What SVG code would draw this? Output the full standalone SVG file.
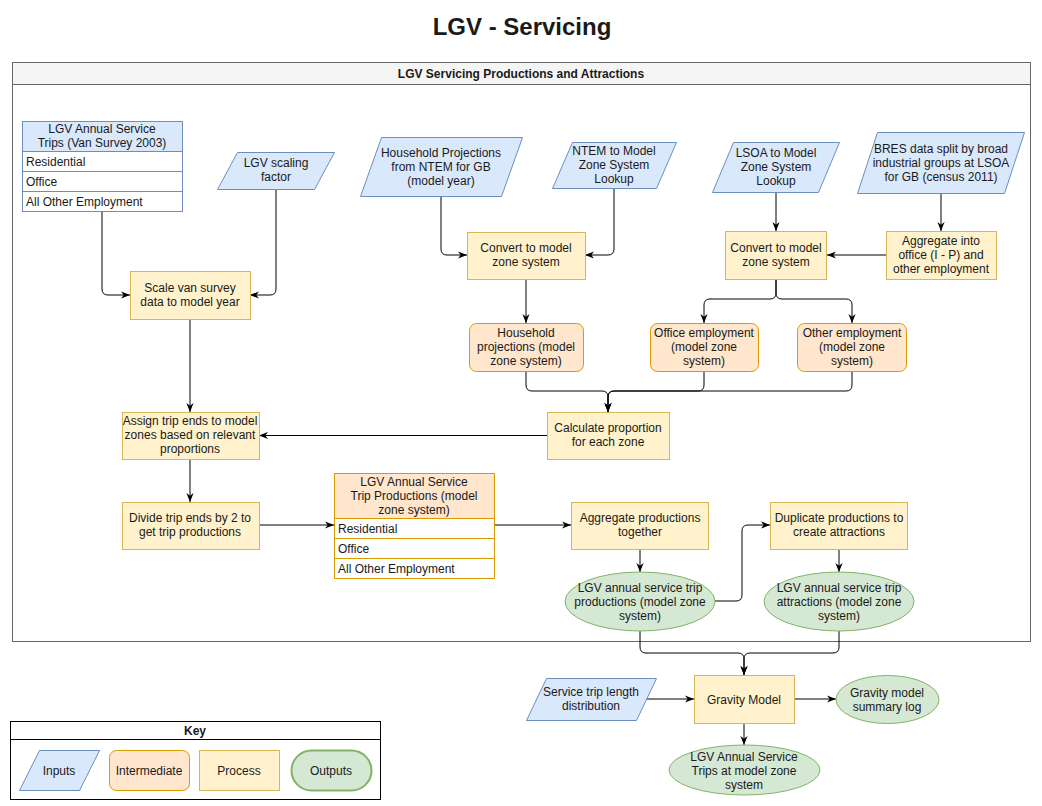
<svg xmlns="http://www.w3.org/2000/svg" width="1042" height="806" viewBox="0 0 1042 806">
<style>
text{font-family:"Liberation Sans",Arial,sans-serif;font-size:12px;fill:#1a1a1a}
.c{text-anchor:middle}
.b{font-weight:bold}
.in{fill:#dae8fc;stroke:#6c8ebf;stroke-width:1}
.im{fill:#ffe6cc;stroke:#d79b00;stroke-width:1}
.pr{fill:#fff2cc;stroke:#d6b656;stroke-width:1}
.out{fill:#d5e8d4;stroke:#82b366;stroke-width:1}
.row{fill:#ffffff}
.e{fill:none;stroke:#000;stroke-width:1;marker-end:url(#arr)}
</style>
<defs>
<marker id="arr" markerUnits="userSpaceOnUse" viewBox="0 0 10 8" markerWidth="9" markerHeight="8" refX="10" refY="4" orient="auto">
<path d="M0,0 L10,4 L0,8 L3,4 z" fill="#000"/>
</marker>
</defs>
<rect width="1042" height="806" fill="#ffffff"/>
<text x="522" y="34.5" class="c b" style="font-size:24px">LGV - Servicing</text>

<g id="container">
<rect x="12.5" y="62.5" width="1018" height="579" fill="#ffffff" stroke="#666666"/>
<rect x="12.5" y="62.5" width="1018" height="22" fill="#f5f5f5" stroke="#666666"/>
<text x="521" y="78" class="c b">LGV Servicing Productions and Attractions</text>
</g>

<g id="connectors">
<path class="e" d="M102,211 V289 Q102,295 108,295 H130"/>
<path class="e" d="M276,189 V289 Q276,295 270,295 H250"/>
<path class="e" d="M441,196 V249 Q441,255 447,255 H467"/>
<path class="e" d="M614,188 V249 Q614,255 608,255 H585"/>
<path class="e" d="M526,279 V323"/>
<path class="e" d="M776,192 V231"/>
<path class="e" d="M941,193 V231"/>
<path class="e" d="M886,255 H827"/>
<path class="e" d="M776,279 V293 Q776,299 770,299 H710 Q704,299 704,305 V323"/>
<path class="e" d="M776,279 V293 Q776,299 782,299 H846 Q852,299 852,305 V323"/>
<path class="e" d="M526,371 V385 Q526,391 532,391 H602 Q608,391 608,397 V412"/>
<path class="e" d="M704,371 V385 Q704,391 698,391 H614 Q608,391 608,397 V412"/>
<path class="e" d="M852,371 V385 Q852,391 846,391 H614 Q608,391 608,397 V412"/>
<path class="e" d="M547,435.5 H259"/>
<path class="e" d="M190,319 V412"/>
<path class="e" d="M190,459 V502"/>
<path class="e" d="M259,525 H334"/>
<path class="e" d="M494,525 H571"/>
<path class="e" d="M640,549 V572"/>
<path class="e" d="M839,549 V572"/>
<path class="e" d="M715,601 H736 Q742,601 742,595 V531 Q742,525 748,525 H770"/>
<path class="e" d="M640,631 V647 Q640,653 646,653 H738 Q744,653 744,659 V675"/>
<path class="e" d="M839,631 V647 Q839,653 833,653 H750 Q744,653 744,659 V675"/>
<path class="e" d="M647,699 H694"/>
<path class="e" d="M794,699 H836"/>
<path class="e" d="M744,723 V745"/>
</g>

<g id="van-survey-table">
<rect x="22.5" y="121.5" width="160" height="90" class="row" stroke="#6c8ebf"/>
<rect x="22.5" y="121.5" width="160" height="30" class="in"/>
<line x1="22.5" y1="171.5" x2="182.5" y2="171.5" stroke="#6c8ebf"/>
<line x1="22.5" y1="191.5" x2="182.5" y2="191.5" stroke="#6c8ebf"/>
<text x="102" y="133" class="c">LGV Annual Service</text>
<text x="102" y="147" class="c">Trips (Van Survey 2003)</text>
<text x="26" y="166">Residential</text>
<text x="26" y="186">Office</text>
<text x="26" y="206">All Other Employment</text>
</g>

<g id="lgv-scaling">
<polygon points="237.5,152.5 334.5,152.5 314.5,189.5 217.5,189.5" class="in"/>
<text x="276" y="167" class="c">LGV scaling</text>
<text x="276" y="181" class="c">factor</text>
</g>

<g id="scale-van">
<rect x="130.5" y="271.5" width="120" height="48" class="pr"/>
<text x="190" y="292" class="c">Scale van survey</text>
<text x="190" y="306" class="c">data to model year</text>
</g>

<g id="household-input">
<polygon points="381.5,137.5 522.5,137.5 501.5,196.5 360.5,196.5" class="in"/>
<text x="441" y="157" class="c">Household Projections</text>
<text x="441" y="171" class="c">from NTEM for GB</text>
<text x="441" y="185" class="c">(model year)</text>
</g>

<g id="ntem-lookup">
<polygon points="572.5,142.5 676.5,142.5 656.5,188.5 552.5,188.5" class="in"/>
<text x="614" y="155" class="c">NTEM to Model</text>
<text x="614" y="169" class="c">Zone System</text>
<text x="614" y="183" class="c">Lookup</text>
</g>

<g id="convert1">
<rect x="467.5" y="232.5" width="118" height="47" class="pr"/>
<text x="526" y="252" class="c">Convert to model</text>
<text x="526" y="266" class="c">zone system</text>
</g>

<g id="household-int">
<rect x="469.5" y="323.5" width="114" height="48" rx="7" class="im"/>
<text x="526" y="337" class="c">Household</text>
<text x="526" y="351" class="c">projections (model</text>
<text x="526" y="365" class="c">zone system)</text>
</g>

<g id="lsoa-lookup">
<polygon points="733.5,142.5 839.5,142.5 818.5,192.5 712.5,192.5" class="in"/>
<text x="776" y="157" class="c">LSOA to Model</text>
<text x="776" y="171" class="c">Zone System</text>
<text x="776" y="185" class="c">Lookup</text>
</g>

<g id="bres">
<polygon points="877.5,132.5 1024.5,132.5 1004.5,193.5 857.5,193.5" class="in"/>
<text x="941" y="153" class="c">BRES data split by broad</text>
<text x="941" y="167" class="c">industrial groups at LSOA</text>
<text x="941" y="181" class="c">for GB (census 2011)</text>
</g>

<g id="convert2">
<rect x="725.5" y="231.5" width="101" height="48" class="pr"/>
<text x="776" y="252" class="c">Convert to model</text>
<text x="776" y="266" class="c">zone system</text>
</g>

<g id="aggregate-office">
<rect x="886.5" y="231.5" width="110" height="48" class="pr"/>
<text x="941" y="245" class="c">Aggregate into</text>
<text x="941" y="259" class="c">office (I - P) and</text>
<text x="941" y="273" class="c">other employment</text>
</g>

<g id="office-emp">
<rect x="650.5" y="323.5" width="108" height="48" rx="7" class="im"/>
<text x="704" y="337" class="c">Office employment</text>
<text x="704" y="351" class="c">(model zone</text>
<text x="704" y="365" class="c">system)</text>
</g>

<g id="other-emp">
<rect x="797.5" y="323.5" width="109" height="48" rx="7" class="im"/>
<text x="852" y="337" class="c">Other employment</text>
<text x="852" y="351" class="c">(model zone</text>
<text x="852" y="365" class="c">system)</text>
</g>

<g id="calculate">
<rect x="547.5" y="412.5" width="122" height="47" class="pr"/>
<text x="608" y="432" class="c">Calculate proportion</text>
<text x="608" y="446" class="c">for each zone</text>
</g>

<g id="assign">
<rect x="122.5" y="412.5" width="137" height="47" class="pr"/>
<text x="190" y="425" class="c">Assign trip ends to model</text>
<text x="190" y="439" class="c">zones based on relevant</text>
<text x="190" y="453" class="c">proportions</text>
</g>

<g id="divide">
<rect x="122.5" y="502.5" width="137" height="47" class="pr"/>
<text x="190" y="522" class="c">Divide trip ends by 2 to</text>
<text x="190" y="536" class="c">get trip productions</text>
</g>

<g id="productions-table">
<rect x="334.5" y="473.5" width="160" height="105" class="row" stroke="#d79b00"/>
<rect x="334.5" y="473.5" width="160" height="45" class="im"/>
<line x1="334.5" y1="538.5" x2="494.5" y2="538.5" stroke="#d79b00"/>
<line x1="334.5" y1="558.5" x2="494.5" y2="558.5" stroke="#d79b00"/>
<text x="414" y="486" class="c">LGV Annual Service</text>
<text x="414" y="500" class="c">Trip Productions (model</text>
<text x="414" y="514" class="c">zone system)</text>
<text x="338" y="533">Residential</text>
<text x="338" y="553">Office</text>
<text x="338" y="573">All Other Employment</text>
</g>

<g id="aggregate-prod">
<rect x="571.5" y="502.5" width="137" height="47" class="pr"/>
<text x="640" y="522" class="c">Aggregate productions</text>
<text x="640" y="536" class="c">together</text>
</g>

<g id="duplicate">
<rect x="770.5" y="502.5" width="137" height="47" class="pr"/>
<text x="839" y="522" class="c">Duplicate productions to</text>
<text x="839" y="536" class="c">create attractions</text>
</g>

<g id="prod-output">
<ellipse cx="640" cy="601.5" rx="75" ry="29.5" class="out"/>
<text x="640" y="592" class="c">LGV annual service trip</text>
<text x="640" y="606" class="c">productions (model zone</text>
<text x="640" y="620" class="c">system)</text>
</g>

<g id="attr-output">
<ellipse cx="839" cy="601.5" rx="75" ry="29.5" class="out"/>
<text x="839" y="592" class="c">LGV annual service trip</text>
<text x="839" y="606" class="c">attractions (model zone</text>
<text x="839" y="620" class="c">system)</text>
</g>

<g id="service-trip-length">
<polygon points="546.5,678.5 656.5,678.5 636.5,720.5 526.5,720.5" class="in"/>
<text x="591" y="696" class="c">Service trip length</text>
<text x="591" y="710" class="c">distribution</text>
</g>

<g id="gravity">
<rect x="694.5" y="675.5" width="100" height="48" class="pr"/>
<text x="744" y="704" class="c">Gravity Model</text>
</g>

<g id="summary-log">
<ellipse cx="887.5" cy="699.5" rx="51.5" ry="24" class="out"/>
<text x="887" y="697" class="c">Gravity model</text>
<text x="887" y="711" class="c">summary log</text>
</g>

<g id="final-output">
<ellipse cx="744.5" cy="770" rx="75.5" ry="25" class="out"/>
<text x="744" y="761" class="c">LGV Annual Service</text>
<text x="744" y="775" class="c">Trips at model zone</text>
<text x="744" y="789" class="c">system</text>
</g>

<g id="key">
<rect x="10.5" y="721.5" width="370" height="78" fill="#ffffff" stroke="#000"/>
<line x1="10.5" y1="739.5" x2="380.5" y2="739.5" stroke="#000"/>
<text x="195" y="735" class="c b">Key</text>
<polygon points="39.5,750.5 99.5,750.5 79.5,790.5 19.5,790.5" class="in"/>
<text x="59" y="775" class="c">Inputs</text>
<rect x="109.5" y="750.5" width="80" height="40" rx="7" class="im"/>
<text x="149" y="775" class="c">Intermediate</text>
<rect x="199.5" y="750.5" width="80" height="40" class="pr"/>
<text x="239" y="775" class="c">Process</text>
<rect x="291.5" y="750.5" width="80" height="40" rx="20" class="out" style="stroke-width:2"/>
<text x="331" y="775" class="c">Outputs</text>
</g>
</svg>
